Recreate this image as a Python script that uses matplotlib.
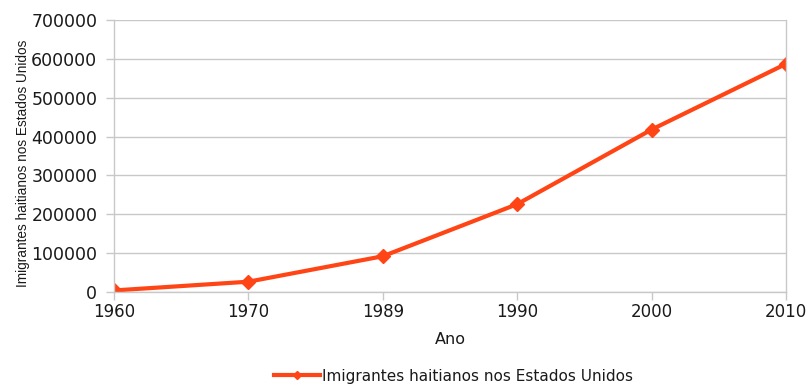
import matplotlib
matplotlib.use("Agg")
import matplotlib.pyplot as plt

# data
anos = ["1960", "1970", "1989", "1990", "2000", "2010"]
imigrantes = [4000, 26500, 92000, 226000, 418000, 587000]
yticks = [0, 100000, 200000, 300000, 400000, 500000, 600000, 700000]

plt.rcParams['font.family'] = ['DejaVu Sans']

cor = "#FF4515"
cinza = "#c8c8c8"
texto = "#1a1a1a"

fig = plt.figure(figsize=(8.06, 3.84), dpi=100)
ax = fig.add_axes([114 / 806, 1 - 292 / 384, 672 / 806, 272 / 384])

x = list(range(len(anos)))
ax.plot(x, imigrantes, color=cor, linewidth=3, marker="D", markersize=7.5,
        label="Imigrantes haitianos nos Estados Unidos")

ax.set_xlim(0, len(anos) - 1)
ax.set_ylim(0, 700000)
ax.set_xticks(x)
ax.set_xticklabels(anos, fontsize=12, color=texto)
ax.set_yticks(yticks)
ax.set_yticklabels([str(v) for v in yticks], fontsize=12.5, color=texto)

ax.grid(axis="y", color=cinza, linewidth=1)
ax.set_axisbelow(True)
for side in ["left", "right", "bottom"]:
    ax.spines[side].set_color(cinza)
    ax.spines[side].set_linewidth(1)
ax.spines["top"].set_visible(False)
ax.tick_params(axis="both", color=cinza, length=6, width=1)
ax.tick_params(axis="x", pad=2)
ax.tick_params(axis="y", pad=6)

ax.set_xlabel("Ano", fontsize=11.5, labelpad=8, color=texto)
ax.set_ylabel("Imigrantes haitianos nos Estados Unidos", fontsize=9.8,
              family=["Liberation Sans Narrow", "Liberation Sans"], color=texto)
ax.yaxis.set_label_coords(-0.125, 0.474)

ax.legend(loc="center", bbox_to_anchor=(0.505, -0.31), frameon=False,
          fontsize=11, handlelength=3, handletextpad=0.1, markerscale=0.5,
          labelcolor=texto)

fig.savefig("out.png", dpi=100)
